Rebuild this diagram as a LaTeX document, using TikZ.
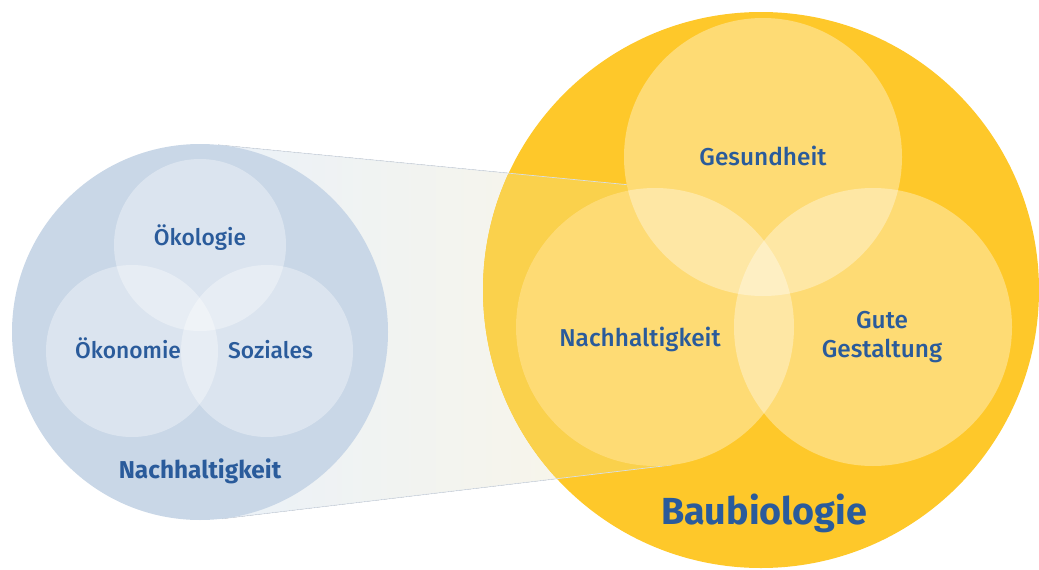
\documentclass[tikz,border=0pt]{standalone}
\usepackage{fontspec}
\setmainfont{Fira Sans}
\newfontfamily\medfont{Fira Sans Medium}
\usetikzlibrary{positioning, math}
\definecolor{textblue}{HTML}{2A5B9B}
\definecolor{outerblue}{HTML}{C9D7E7}
\definecolor{outeryellow}{HTML}{FEC82A}
\definecolor{funnelleft}{HTML}{EAF1F9}
\definecolor{funnelmid}{HTML}{F4F6F7}
\definecolor{funnelright}{HTML}{FBF6E6}
\definecolor{funnelin}{HTML}{FAD14C}
\definecolor{funneledge}{HTML}{D6DEE8}
\tikzset{
every circle node/.style={circle, inner sep=0pt},
bigblue/.style={circle, fill=outerblue},
bigyellow/.style={circle, fill=outeryellow},
lens/.style={circle, fill=white, fill opacity=0.35},
base/.style={circle, fill=outeryellow},
label/.style={text=textblue, font=\medfont\fontsize{22.8}{27}\selectfont, anchor=base, align=center},
rlabel/.style={label, font=\medfont\fontsize{24.4}{29}\selectfont},
title/.style={text=textblue, font=\bfseries\fontsize{24.4}{29}\selectfont, anchor=base},
bigtitle/.style={text=textblue, font=\bfseries\fontsize{37.7}{45}\selectfont, anchor=base},
}

\begin{document}
\begin{tikzpicture}[x=1pt, y=-1pt]
    \tikzmath{ \rl=188; \rls=86; \rr=278; \rrs=139; };  % radii of big and small circles
    \useasboundingbox (0,0) rectangle (1039,570);

    %funnel tangent points
    \coordinate (t1) at (218.2,144.9);
    \coordinate (t2) at (668.4,188.7);
    \coordinate (b1) at (222.3,518.7);
    \coordinate (b2) at (671.5,465.0);
    \coordinate (lc) at (200,332);
    \coordinate (rc) at (655,327);

    %funnel over white
    \fill[left color=funnelleft, middle color=funnelmid, right color=funnelright] (t1)--(t2)--(rc)--(b2)--(b1)--(lc)--cycle;

    %big circles
    \node[bigyellow, minimum size=2*\rr] (baubio) at (761,290) { };
    \begin{scope}
        \clip (761,290) circle (\rr);
        \fill[funnelin] (t1)--(t2)--(rc)--(b2)--(b1)--(lc)--cycle;
    \end{scope}
    \draw[funneledge, line width=0.7pt] (t1)--(t2);
    \draw[funneledge, line width=0.7pt] (b1)--(b2);
    \node[bigblue, minimum size=2*\rl] (nachh) at (lc) { };

    %small circles left
    \node[lens, minimum size=2*\rls] (oeko) at (200,245) { };
    \node[lens, minimum size=2*\rls] (oekon) at (132,351) { };
    \node[lens, minimum size=2*\rls] (sozi) at (267,351) { };

    %small circles right
    \node[base, minimum size=2*\rrs] at (763,157) { };
    \node[base, minimum size=2*\rrs] at (rc) { };
    \node[base, minimum size=2*\rrs] at (873,327) { };
    \node[lens, minimum size=2*\rrs] (ges) at (763,157) { };
    \node[lens, minimum size=2*\rrs] (nach) at (rc) { };
    \node[lens, minimum size=2*\rrs] (gute) at (873,327) { };

    %labels left
    \node[label] (loeko) at (200,245) {Ökologie};
    \node[label] (loekon) at (128,358) {Ökonomie};
    \node[label] (lsozi) at (270.5,358) {Soziales};
    \node[title] (lnachh) at (200,478) {Nachhaltigkeit};

    %labels right
    \node[rlabel] (lges) at (763,165) {Gesundheit};
    \node[rlabel] (lnach) at (640,346) {Nachhaltigkeit};
    \node[rlabel] (lgute) at (882,328) {Gute};
    \node[rlabel] (lgest) at (882,357) {Gestaltung};
    \node[bigtitle] (lbaubio) at (764,524) {Baubiologie};

\end{tikzpicture}
\end{document}
